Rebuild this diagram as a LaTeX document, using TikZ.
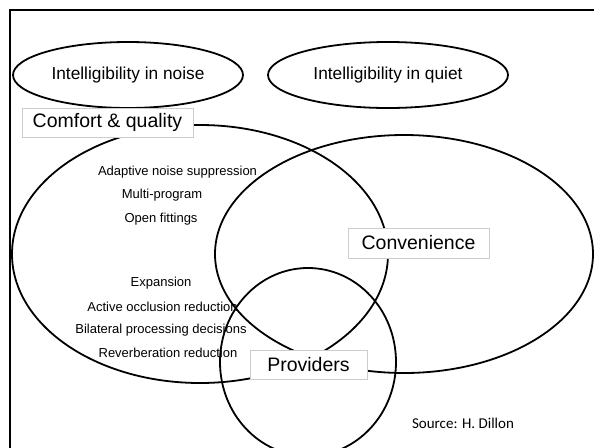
\documentclass[tikz,border=0pt]{standalone}
\usepackage{fontspec}
\setmainfont{Liberation Sans}
\newfontfamily\srcfont{Carlito}
\usetikzlibrary{shapes.geometric}
\begin{document}
\begin{tikzpicture}[x=1pt,y=-1pt,
  venn/.style={draw, ellipse, line width=1.8pt, inner sep=0pt},
  bigtext/.style={font=\fontsize{17.3}{20}\selectfont},
  labelbox/.style={draw=black!20, fill=white, line width=0.7pt, inner sep=0pt,
    font=\fontsize{19.5}{22}\selectfont},
  itemtext/.style={font=\fontsize{13}{15}\selectfont, inner sep=0pt},
  srctext/.style={font=\srcfont\fontsize{15}{17}\selectfont, inner sep=0pt},
  frameline/.style={line width=1.8pt}]
\useasboundingbox (0,0) rectangle (594,447);
\clip (0,0) rectangle (594,447);
\fill[white] (0,0) rectangle (594,447);
% frame
\coordinate (fbl) at (10,460);
\coordinate (ftl) at (10,10);
\coordinate (ftr) at (600,10);
\draw[frameline] (fbl) -- (ftl) -- (ftr);
% top ellipses
\node[venn, bigtext, minimum width=230pt, minimum height=66pt] (noise) at (128,75) {Intelligibility in noise};
\node[venn, bigtext, minimum width=240pt, minimum height=66pt] (quiet) at (388,75) {Intelligibility in quiet};
% Venn ellipses
\node[venn, minimum width=376pt, minimum height=258pt] (comfort) at (200,254) {};
\node[venn, minimum width=378pt, minimum height=238pt] (conv) at (404,254) {};
\node[venn, minimum width=176pt, minimum height=188pt] (prov) at (308,362) {};
% items
\node[itemtext] (i1) at (177.5,171.7) {Adaptive noise suppression};
\node[itemtext] (i2) at (162,195) {Multi-program};
\node[itemtext] (i3) at (161,219) {Open fittings};
\node[itemtext] (i4) at (161,282.7) {Expansion};
\node[itemtext] (i5) at (162.5,306.7) {Active occlusion reduction};
\node[itemtext] (i6) at (161,330) {Bilateral processing decisions};
\node[itemtext] (i7) at (168,353.3) {Reverberation reduction};
% label boxes
\node[labelbox, minimum width=171pt, minimum height=29pt] (comfortlbl) at (107.5,122.5) {Comfort \& quality};
\node[labelbox, minimum width=141pt, minimum height=30pt] (convlbl) at (418.5,243) {Convenience};
\node[labelbox, minimum width=117pt, minimum height=29pt] (provlbl) at (308.5,364.5) {Providers};
% source
\node[srctext] (src) at (463,423) {Source: H. Dillon};
\end{tikzpicture}
\end{document}
